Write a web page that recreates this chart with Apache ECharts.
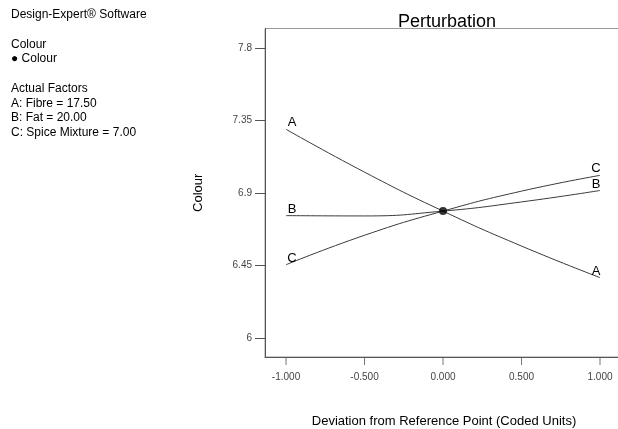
<!DOCTYPE html>
<html>
<head>
<meta charset="utf-8">
<script src="https://cdn.jsdelivr.net/npm/echarts@6/dist/echarts.min.js"></script>
<style>html,body{margin:0;padding:0;background:#fff}#c{width:618px;height:429px}</style>
</head>
<body>
<div id="c"></div>
<script>
// ---- data ----
var xTicks = [-1, -0.5, 0, 0.5, 1];
var yTicks = [6, 6.45, 6.9, 7.35, 7.8];
var devs = [-1, -0.5, 0, 0.5, 1];
var seriesA = [7.296, 7.030, 6.788, 6.571, 6.375];
var seriesB = [6.760, 6.758, 6.788, 6.845, 6.916];
var seriesC = [6.455, 6.638, 6.788, 6.912, 7.010];
var refPoint = [0, 6.788];
var factorNames = ['A', 'B', 'C'];
var infoLines = [
  'Design-Expert\u00ae Software', '', 'Colour', '\u25cf Colour', '',
  'Actual Factors', 'A: Fibre = 17.50', 'B: Fat = 20.00', 'C: Spice Mixture = 7.00'
];

var X_MIN = -1.134, X_MAX = 1.1465, Y_MIN = 5.882, Y_MAX = 7.922;

var chart = echarts.init(document.getElementById('c'), null, {renderer: 'canvas'});
var FONT = 'Liberation Sans, Arial, sans-serif';

function mk(vals, name) {
  return {
    type: 'line', name: name, smooth: true, symbol: 'none', silent: true,
    lineStyle: {color: '#3a3a3a', width: 1},
    data: vals.map(function (v, i) {
      var d = {value: [devs[i], v]};
      if (i === 0 || i === vals.length - 1) {
        d.symbol = 'circle'; d.symbolSize = 0.1;
        d.label = {show: true, formatter: name, position: 'top', distance: 0,
          offset: i === 0 ? [6, 0] : [-4, 0],
          color: '#000', fontSize: 13, fontFamily: FONT};
      }
      return d;
    })
  };
}

var graphics = [];
infoLines.forEach(function (t, i) {
  if (!t) return;
  graphics.push({type: 'text', left: 11, top: 9 + i * 14.7,
    style: {text: t, fill: '#000', font: '12px ' + FONT}});
});

chart.setOption({
  animation: false,
  title: {text: 'Perturbation', left: 442, textAlign: 'center', top: 8,
    textStyle: {fontSize: 18, fontWeight: 'normal', color: '#000', fontFamily: FONT}},
  graphic: graphics,
  grid: {left: 265, top: 28.5, right: -5, bottom: 72, containLabel: false,
    outerBoundsMode: 'none',
    show: true, borderColor: '#999', borderWidth: 1, backgroundColor: 'transparent'},
  xAxis: {
    type: 'value', min: X_MIN, max: X_MAX, position: 'bottom',
    name: 'Deviation from Reference Point (Coded Units)', nameLocation: 'middle', nameGap: 58,
    nameTextStyle: {fontSize: 13, color: '#000', fontFamily: FONT},
    axisLine: {show: true, onZero: false, lineStyle: {color: '#555', width: 1}},
    axisTick: {show: false},
    axisLabel: {customValues: xTicks, formatter: function (v) { return v.toFixed(3); },
      margin: 15, fontSize: 10, color: '#444', fontFamily: FONT},
    splitLine: {show: false}
  },
  yAxis: {
    type: 'value', min: Y_MIN, max: Y_MAX, position: 'left',
    name: 'Colour', nameLocation: 'middle', nameGap: 60, nameRotate: 90,
    nameTextStyle: {fontSize: 13, color: '#000', fontFamily: FONT},
    axisLine: {show: true, onZero: false, lineStyle: {color: '#555', width: 1}},
    axisTick: {show: true, length: 10, customValues: yTicks, lineStyle: {color: '#555'}},
    axisLabel: {customValues: yTicks, formatter: function (v) { return String(+v.toFixed(2)); },
      margin: 13, fontSize: 10, color: '#444', fontFamily: FONT},
    splitLine: {show: false}
  },
  series: [
    mk(seriesA, factorNames[0]),
    mk(seriesB, factorNames[1]),
    mk(seriesC, factorNames[2]),
    {type: 'scatter', data: [refPoint], symbol: 'circle', symbolSize: 8,
      itemStyle: {color: '#000'}, silent: true, z: 5},
    // x-axis tick marks placed through the axis scale
    {type: 'scatter', clip: false, silent: true, z: 1,
      data: xTicks.map(function (t) { return [t, Y_MIN]; }),
      symbol: 'rect', symbolSize: [1, 8], symbolOffset: [0, 4],
      itemStyle: {color: '#555'}}
  ]
});
</script>
</body>
</html>
